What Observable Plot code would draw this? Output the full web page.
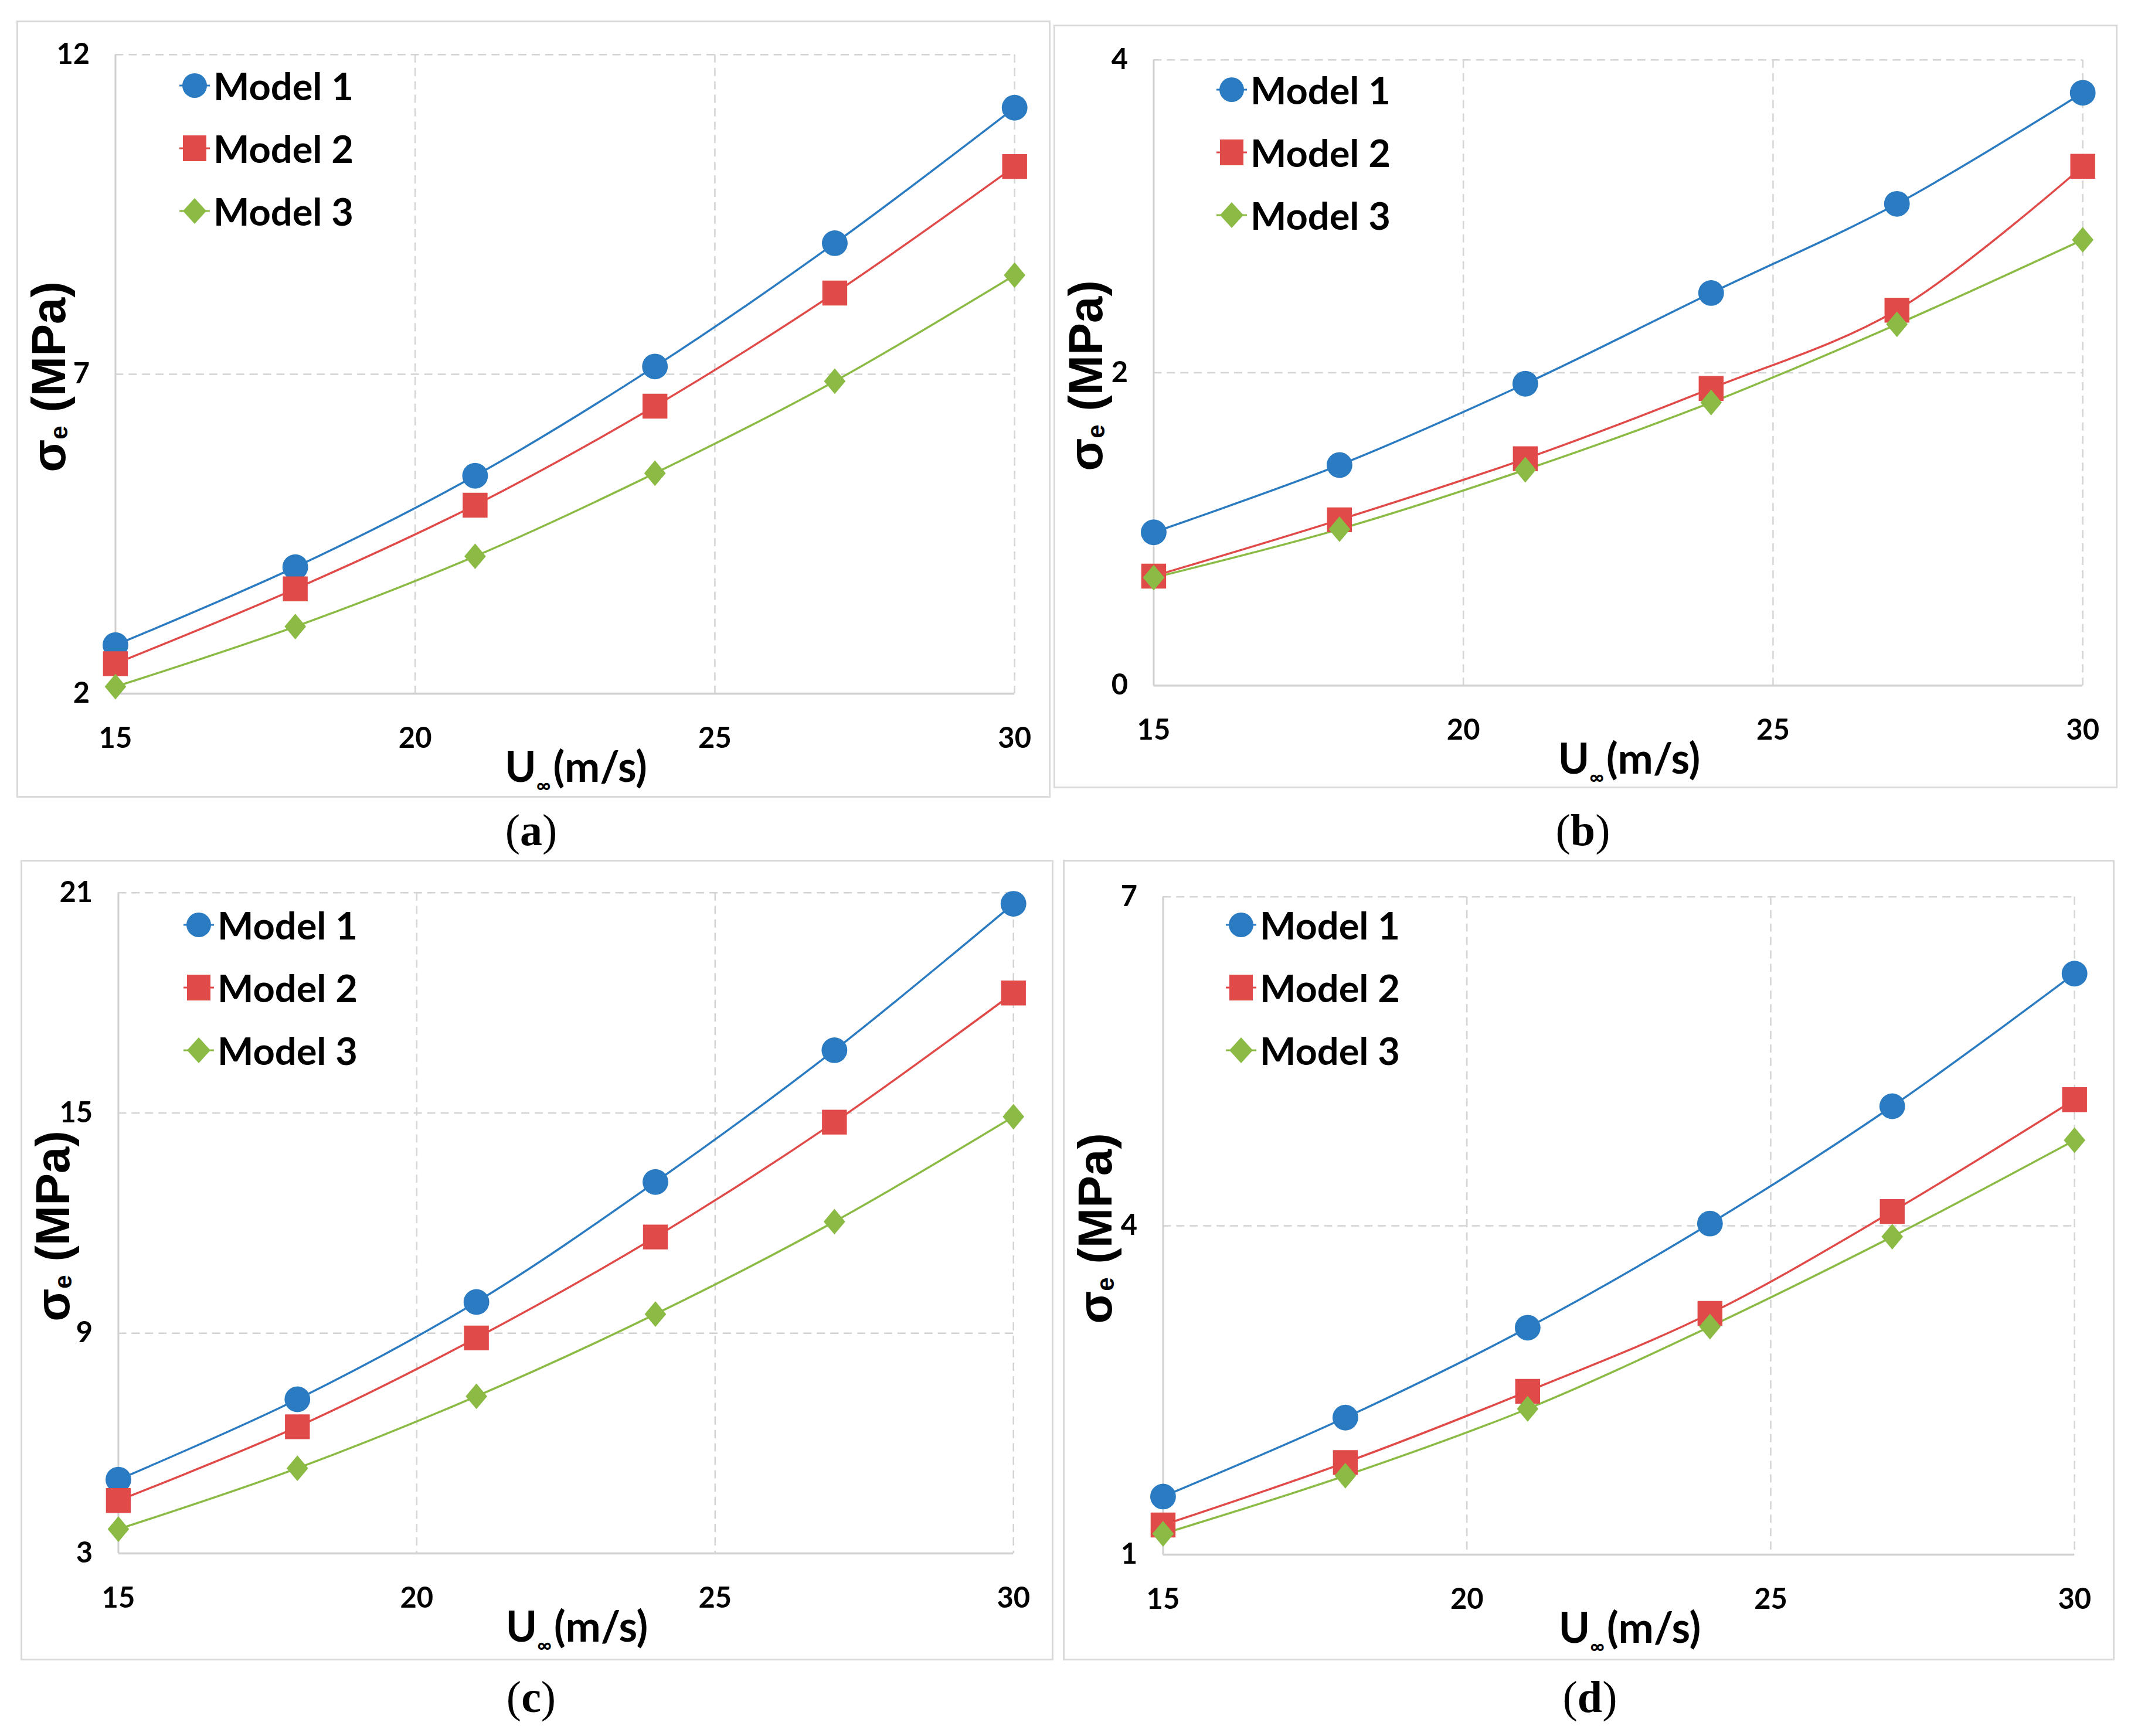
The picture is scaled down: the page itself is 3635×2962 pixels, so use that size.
<!DOCTYPE html>
<html>
<head>
<meta charset="utf-8">
<script src="https://cdn.jsdelivr.net/npm/d3@7"></script>
<script src="https://cdn.jsdelivr.net/npm/@observablehq/plot@0.6"></script>
<style>
  body { margin: 0; background: #fff; width: 3635px; height: 2962px; position: relative; overflow: hidden; }
  .panel { position: absolute; border: 3px solid #d9d9d9; box-sizing: border-box; }
  .panel svg.plot { position: absolute; left: -3px; top: -3px; }
  .ylab { position: absolute; font-family: "Liberation Sans", Arial, sans-serif; font-weight: bold; font-size: 82px;
          white-space: nowrap; transform: translate(-50%, -50%) rotate(-90deg); color: #000; }
  .ylab sub { font-size: 42px; vertical-align: -4px; }
  .xlab { position: absolute; font-family: Lato, sans-serif; font-weight: bold; font-size: 72px;
          white-space: nowrap; transform: translate(-50%, -50%); color: #000; }
  .xlab sub { font-size: 34px; vertical-align: -18px; margin-right: 4px; }
  .legend { position: absolute; font-family: Lato, sans-serif; font-weight: bold; font-size: 65px; color: #000; }
  .legend .row { position: absolute; display: flex; align-items: center; white-space: nowrap; transform: translateY(-50%); }
  .legend svg { display: block; margin-right: 6px; }
  .caption { position: absolute; font-family: "Liberation Serif", serif; font-size: 76px; transform: translate(-50%, -50%); color: #000; }
</style>
</head>
<body>
<script>
// wind speed U∞ (m/s)
const speeds = [15, 18, 21, 24, 27, 30];
const models = ["Model 1", "Model 2", "Model 3"];
const colors = ["#2a7bc1", "#e04a48", "#8bbb44"];
const xTicks = [15, 20, 25, 30];

// (a)
const aModel1 = [2.76, 3.98, 5.41, 7.12, 9.05, 11.17];
const aModel2 = [2.47, 3.64, 4.95, 6.50, 8.27, 10.25];
const aModel3 = [2.11, 3.05, 4.15, 5.45, 6.89, 8.55];
const aTicks = [2, 7, 12];
// (b)
const bModel1 = [0.98, 1.41, 1.93, 2.51, 3.08, 3.79];
const bModel2 = [0.70, 1.06, 1.45, 1.90, 2.40, 3.32];
const bModel3 = [0.69, 1.00, 1.38, 1.81, 2.31, 2.85];
const bTicks = [0, 2, 4];
// (c)
const cModel1 = [5.01, 7.20, 9.85, 13.12, 16.71, 20.70];
const cModel2 = [4.44, 6.45, 8.87, 11.62, 14.75, 18.27];
const cModel3 = [3.66, 5.32, 7.28, 9.52, 12.04, 14.90];
const cTicks = [3, 9, 15, 21];
// (d)
const dModel1 = [1.53, 2.25, 3.07, 4.02, 5.09, 6.30];
const dModel2 = [1.27, 1.84, 2.49, 3.20, 4.13, 5.15];
const dModel3 = [1.19, 1.72, 2.33, 3.08, 3.90, 4.78];
const dTicks = [1, 4, 7];

const captions = ["a", "b", "c", "d"];

// panel boxes on the page
const frames = [
  {left: 28,   top: 35,   width: 1764, height: 1326, ml: 169, mr: 56, mt: 58, mb: 174, cx: 906,  cy: 1416},
  {left: 1797, top: 42,   width: 1815, height: 1303, ml: 171, mr: 54, mt: 60, mb: 172, cx: 2700, cy: 1416},
  {left: 35,   top: 1467, width: 1762, height: 1366, ml: 167, mr: 63, mt: 56, mb: 179, cx: 906,  cy: 2895},
  {left: 1813, top: 1467, width: 1794, height: 1366, ml: 171, mr: 63, mt: 63, mb: 177, cx: 2712, cy: 2895}
];

const panels = [
  {series: [aModel1, aModel2, aModel3], ticks: aTicks},
  {series: [bModel1, bModel2, bModel3], ticks: bTicks},
  {series: [cModel1, cModel2, cModel3], ticks: cTicks},
  {series: [dModel1, dModel2, dModel3], ticks: dTicks}
];

// taller-than-wide diamond like Excel's marker
const diamond = {
  draw(ctx, size) {
    const s = Math.sqrt(size);
    const h = s * 0.62, w = s * 0.52;
    ctx.moveTo(0, -h); ctx.lineTo(w, 0); ctx.lineTo(0, h); ctx.lineTo(-w, 0); ctx.closePath();
  }
};
const symbols = ["circle", "square", diamond];
const radii = [22, 24, 20];

const legendIcons = [
  c => `<circle cx="26" cy="26" r="21" fill="${c}"/>`,
  c => `<rect x="6" y="4" width="40" height="44" fill="${c}"/>`,
  c => `<path d="M26 4 L46 26 L26 48 L6 26 Z" fill="${c}"/>`
];

panels.forEach((p, k) => {
  const f = frames[k];
  const div = document.createElement("div");
  div.className = "panel";
  div.style.left = f.left + "px";
  div.style.top = f.top + "px";
  div.style.width = f.width + "px";
  div.style.height = f.height + "px";
  document.body.appendChild(div);

  const ymin = p.ticks[0], ymax = p.ticks[p.ticks.length - 1];
  const rows = p.series.map(s => speeds.map((u, i) => ({u, v: s[i]})));

  const marks = [
    Plot.ruleX(xTicks.slice(1), {stroke: "#d4d4d4", strokeWidth: 2.5, strokeDasharray: "14,9"}),
    Plot.ruleY(p.ticks.slice(1), {stroke: "#d4d4d4", strokeWidth: 2.5, strokeDasharray: "14,9"}),
    Plot.ruleX([xTicks[0]], {stroke: "#d0d0d0", strokeWidth: 3}),
    Plot.ruleY([ymin], {stroke: "#d0d0d0", strokeWidth: 3.5})
  ];
  rows.forEach((r, m) => {
    marks.push(Plot.line(r, {x: "u", y: "v", stroke: colors[m], strokeWidth: 3.5, curve: "catmull-rom"}));
  });
  rows.forEach((r, m) => {
    marks.push(Plot.dot(r, {x: "u", y: "v", symbol: symbols[m], r: radii[m], fill: colors[m], stroke: "none"}));
  });

  const chart = Plot.plot({
    width: f.width,
    height: f.height,
    marginLeft: f.ml,
    marginRight: f.mr,
    marginTop: f.mt,
    marginBottom: f.mb,
    x: {domain: [xTicks[0], xTicks[xTicks.length - 1]], ticks: xTicks, tickFormat: d => String(d), tickSize: 0, tickPadding: 58, label: null},
    y: {domain: [ymin, ymax], ticks: p.ticks, tickFormat: d => String(d), tickSize: 0, tickPadding: 44, label: null},
    style: {fontFamily: "Lato, sans-serif", fontWeight: "bold", fontSize: "49px", color: "#000", background: "transparent", overflow: "visible"},
    marks
  });
  chart.classList.add("plot");
  div.appendChild(chart);

  const plotW = f.width - f.ml - f.mr;
  const plotH = f.height - f.mt - f.mb;

  const ylab = document.createElement("div");
  ylab.className = "ylab";
  ylab.innerHTML = "σ<sub>e</sub> (MPa)";
  ylab.style.left = "52px";
  ylab.style.top = (f.mt + plotH / 2) + "px";
  div.appendChild(ylab);

  const xlab = document.createElement("div");
  xlab.className = "xlab";
  xlab.innerHTML = "U<sub>∞</sub>(m/s)";
  xlab.style.left = (f.ml + plotW / 2 + 13) + "px";
  xlab.style.top = (f.mt + plotH + 121) + "px";
  div.appendChild(xlab);

  const legend = document.createElement("div");
  legend.className = "legend";
  legend.style.left = "275px";
  legend.style.top = "0px";
  models.forEach((name, m) => {
    const row = document.createElement("div");
    row.className = "row";
    row.style.top = (108 + m * 107) + "px";
    row.innerHTML = `<svg width="52" height="52"><line x1="0" y1="26" x2="52" y2="26" stroke="${colors[m]}" stroke-width="3"/>${legendIcons[m](colors[m])}</svg><span>${name}</span>`;
    legend.appendChild(row);
  });
  div.appendChild(legend);

  const cap = document.createElement("div");
  cap.className = "caption";
  cap.innerHTML = `(<b>${captions[k]}</b>)`;
  cap.style.left = f.cx + "px";
  cap.style.top = f.cy + "px";
  document.body.appendChild(cap);
});
</script>
</body>
</html>
